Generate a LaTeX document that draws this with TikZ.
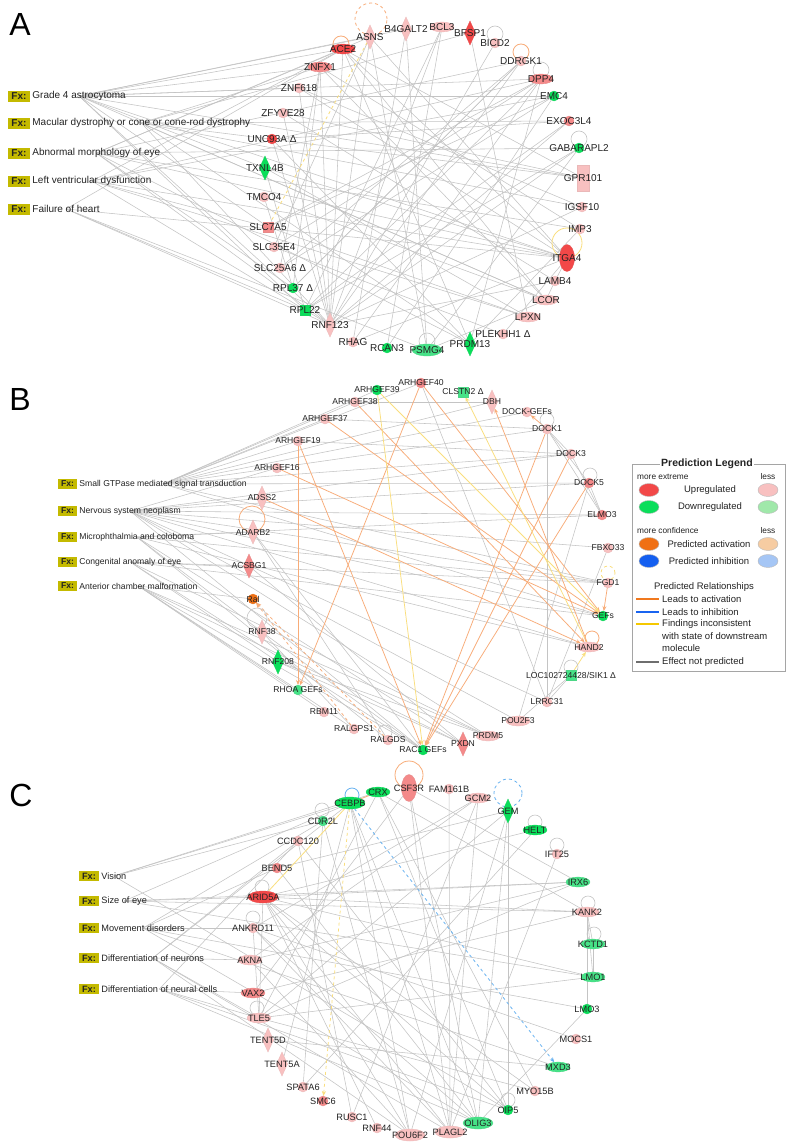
\documentclass[tikz,border=0pt]{standalone}
\usepackage{fontspec}
\setmainfont{Liberation Sans}
\usetikzlibrary{shapes.geometric,arrows.meta}
\pgfdeclarelayer{bg}
\pgfdeclarelayer{paper}
\pgfsetlayers{paper,bg,main}
\definecolor{uphi}{RGB}{242,72,72}
\definecolor{upmid}{RGB}{244,138,138}
\definecolor{uplo}{RGB}{248,192,192}
\definecolor{dnhi}{RGB}{10,222,90}
\definecolor{dnmid}{RGB}{70,226,135}
\definecolor{dnlo}{RGB}{160,232,170}
\definecolor{orhi}{RGB}{240,112,20}
\definecolor{orlo}{RGB}{246,204,162}
\definecolor{blhi}{RGB}{20,95,240}
\definecolor{bllo}{RGB}{165,198,245}
\definecolor{edg}{RGB}{196,196,196}
\definecolor{edo}{RGB}{248,172,120}
\definecolor{edy}{RGB}{250,222,125}
\definecolor{edb}{RGB}{100,176,240}
\definecolor{fxc}{RGB}{196,186,0}
\definecolor{txt}{RGB}{35,35,35}
\definecolor{lgo}{RGB}{240,120,30}
\definecolor{lgb}{RGB}{25,100,240}
\definecolor{lgy}{RGB}{245,200,0}
\definecolor{lgg}{RGB}{110,110,110}
\definecolor{lgbox}{RGB}{165,165,165}
\newcommand\fsz[1]{\fontsize{#1}{#1}\selectfont}
\newcommand\gn[6]{\node[#4,fill=#5,draw=#5!88!gray] (#1) at (#2,#3) {};\node[nl] (#1t) at (#1) {#6};}
\newcommand\fxn[4]{\node[fxbox] (#1) at (#2,#3) {Fx:};\node[fxt,anchor=west] (#1t) at ([xshift=2pt]#1.east) {#4};}
\newcommand\lp[5]{\draw[#5] (#1) ++(#2,#3) circle[radius=#4pt];}
\tikzset{
 bs/.style={inner sep=0pt,outer sep=0pt,line width=0.3pt},
 cir/.style={bs,circle,minimum size=10pt},
 ell/.style={bs,ellipse,minimum width=24pt,minimum height=10pt},
 ellw/.style={bs,ellipse,minimum width=30pt,minimum height=12pt},
 tall/.style={bs,ellipse,minimum width=15pt,minimum height=27pt},
 dia/.style={bs,diamond,minimum width=11pt,minimum height=24pt},
 sq/.style={bs,rectangle,minimum size=10pt},
 rct/.style={bs,rectangle,minimum width=12pt,minimum height=26pt},
 ge/.style={draw=edg,line width=0.55pt},
 oe/.style={draw=edo,line width=0.75pt,-{Stealth[length=5pt,width=4pt]}},
 oed/.style={oe,dashed},
 ye/.style={draw=edy,line width=0.75pt,-{Stealth[length=5pt,width=4pt]}},
 yed/.style={ye,dashed},
 be/.style={draw=edb,line width=0.75pt,dashed,-{Stealth[length=5pt,width=4pt]}},
 gl/.style={draw=edg,line width=0.6pt},
 ol/.style={draw=edo,line width=0.8pt},
 old/.style={ol,dashed},
 yl/.style={draw=edy,line width=0.8pt},
 yld/.style={yl,dashed},
 bl/.style={draw=edb,line width=0.8pt},
 bld/.style={bl,dashed},
 plet/.style={font=\fsz{32},text=black,inner sep=0pt},
 lege/.style={ellipse,minimum width=20pt,minimum height=13pt,inner sep=0pt,draw=gray!55,line width=0.4pt},
 lt/.style={font=\fsz{9.5},text=txt,inner sep=0pt},
 ls/.style={font=\fsz{8.3},text=txt,inner sep=0pt},
}
\begin{document}
\begin{tikzpicture}[x=1pt,y=-1pt]
\useasboundingbox (0,0) rectangle (792,1148);
\begin{pgfonlayer}{paper}
\fill[white] (0,0) rectangle (792,1148);
\end{pgfonlayer}

% ================= PANEL A =================
\node[plet] (pa) at (20,24) {A};
\tikzset{nl/.style={font=\fsz{10},text=txt,inner sep=0pt},
 fxbox/.style={fill=fxc,font=\bfseries\fsz{10},text=txt,minimum width=22pt,minimum height=11pt,inner sep=0pt},
 fxt/.style={font=\fsz{10},text=txt,inner sep=0pt}}
\fxn{fa1}{19}{96}{Grade 4 astrocytoma}
\fxn{fa2}{19}{123}{Macular dystrophy or cone or cone-rod dystrophy}
\fxn{fa3}{19}{153}{Abnormal morphology of eye}
\fxn{fa4}{19}{181}{Left ventricular dysfunction}
\fxn{fa5}{19}{209}{Failure of heart}

\gn{ACE}{343}{49}{ell}{uphi}{ACE2}
\gn{ASNS}{370}{37}{dia}{uplo}{ASNS}
\gn{B4G}{406}{29}{dia}{uplo}{B4GALT2}
\gn{BCL}{442}{27}{ell}{uplo}{BCL3}
\gn{BFS}{470}{33}{dia}{uphi}{BFSP1}
\gn{BIC}{495}{43}{cir}{uplo}{BICD2}
\gn{DDR}{521}{61}{cir}{uplo}{DDRGK1}
\gn{DPP}{541}{79}{ell}{upmid}{DPP4}
\gn{EMC}{554}{96}{cir}{dnhi}{EMC4}
\gn{EXO}{569}{121}{cir}{upmid}{EXOC3L4}
\gn{GAB}{579}{148}{cir}{dnhi}{GABARAPL2}
\gn{GPR}{583}{178}{rct}{uplo}{GPR101}
\gn{IGS}{582}{207}{cir}{uplo}{IGSF10}
\gn{IMP}{580}{229}{cir}{uplo}{IMP3}
\gn{ITG}{567}{258}{tall}{uphi}{ITGA4}
\gn{LAM}{555}{281}{cir}{uplo}{LAMB4}
\gn{LCO}{546}{300}{ell}{uplo}{LCOR}
\gn{LPX}{528}{317}{ell}{uplo}{LPXN}
\gn{PLE}{503}{334}{cir}{uplo}{PLEKHH1 Δ}
\gn{PRD}{470}{344}{dia}{dnhi}{PRDM13}
\gn{PSM}{427}{350}{ellw}{dnmid}{PSMG4}
\gn{RCA}{387}{348}{cir}{dnhi}{RCAN3}
\gn{RHA}{353}{342}{cir}{uplo}{RHAG}
\gn{RNF}{330}{325}{dia}{uplo}{RNF123}
\gn{R22}{305}{310}{sq}{dnhi}{RPL22}
\gn{R37}{293}{288}{cir}{dnhi}{RPL37 Δ}
\gn{S25}{280}{268}{cir}{uplo}{SLC25A6 Δ}
\gn{S35}{274}{247}{cir}{uplo}{SLC35E4}
\gn{S7}{268}{227}{sq}{upmid}{SLC7A5}
\gn{TMC}{264}{197}{cir}{uplo}{TMCO4}
\gn{TXN}{265}{168}{dia}{dnhi}{TXNL4B}
\gn{UNC}{272}{139}{cir}{uphi}{UNC93A Δ}
\gn{ZFY}{283}{113}{cir}{uplo}{ZFYVE28}
\gn{Z618}{299}{88}{cir}{uplo}{ZNF618}
\gn{ZNX}{320}{67}{ell}{upmid}{ZNFX1}

\begin{pgfonlayer}{bg}
\foreach \b in {ACE,ZNX,ASNS,Z618,S7,RNF,R22,DPP,GPR,ITG,EMC,LCO,TXN,B4G} \draw[ge] (fa1t.center) -- (\b);
\foreach \b in {BFS,ZNX,IGS,GPR,LCO,RNF,EXO,PRD} \draw[ge] (fa2t.center) -- (\b);
\foreach \b in {ACE,ASNS,DDR,ITG,RNF,R37,PRD,GAB,IMP} \draw[ge] (fa3t.center) -- (\b);
\foreach \b in {ITG,DPP,S7,RNF,ACE,LPX,EMC} \draw[ge] (fa4t.center) -- (\b);
\foreach \b in {ACE,RNF,R22,ITG,PSM} \draw[ge] (fa5t.center) -- (\b);
\foreach \a/\b in {ACE/RNF,ACE/PRD,ACE/ITG,ACE/LCO,ASNS/RNF,ASNS/S35,ASNS/PSM,ASNS/ITG,ZNX/R37,ZNX/RNF,ZNX/LCO,ZNX/S25,Z618/ITG,Z618/RNF,ZFY/RNF,ZFY/GPR,UNC/RNF,UNC/PRD,UNC/EXO,TXN/R22,TXN/ITG,TMC/R37,TMC/LCO,S7/DPP,S7/EMC,S35/DPP,S25/EMC,S25/DDR,R37/DDR,R22/GAB,R22/DPP,RNF/DDR,RNF/GAB,RNF/EXO,RNF/IGS,RNF/LAM,RNF/BIC,RNF/BCL,RHA/DPP,RHA/ITG,RHA/B4G,RCA/EMC,RCA/BCL,PSM/GAB,PSM/LCO,PSM/B4G,PRD/DPP,PLE/S35,LPX/BFS,LPX/TXN,LAM/ZFY,IMP/ZNX,IMP/PRD,IGS/Z618,GPR/ACE,BCL/R22,LPX/S7,PLE/ITG,EXO/R22,DDR/R37,LAM/ITG,LCO/LAM}
  \draw[ge] (\a) -- (\b);
\draw[yld] (ASNS) -- (S7);
\lp{ACE}{-2}{-5}{8}{ol}
\lp{ASNS}{1}{-18}{16}{old}
\lp{DDR}{0}{-9}{8}{ol}
\lp{ITG}{0}{-15}{15}{yl}
\lp{BIC}{0}{-9}{8}{gl}
\lp{DPP}{0}{-9}{8}{gl}
\lp{GAB}{0}{-9}{8}{gl}
\lp{PSM}{0}{-9}{8}{gl}
\end{pgfonlayer}

% ================= PANEL B =================
\node[plet] (pb) at (20,399) {B};
\tikzset{nl/.style={font=\fsz{8.6},text=txt,inner sep=0pt},
 fxbox/.style={fill=fxc,font=\bfseries\fsz{8.6},text=txt,minimum width=19pt,minimum height=10pt,inner sep=0pt},
 fxt/.style={font=\fsz{8.6},text=txt,inner sep=0pt}}
\fxn{fb1}{67.5}{484}{Small GTPase mediated signal transduction}
\fxn{fb2}{67.5}{511}{Nervous system neoplasm}
\fxn{fb3}{67.5}{537}{Microphthalmia and coloboma}
\fxn{fb4}{67.5}{562}{Congenital anomaly of eye}
\fxn{fb5}{67.5}{586}{Anterior chamber malformation}

\gn{b39}{377}{390}{cir}{dnhi}{ARHGEF39}
\gn{b40}{421}{383}{cir}{upmid}{ARHGEF40}
\gn{cls}{463}{392}{sq}{dnmid}{CLSTN2 Δ}
\gn{dbh}{492}{402}{dia}{uplo}{DBH}
\gn{dgef}{527}{412}{cir}{uplo}{DOCK-GEFs}
\gn{d1}{547}{429}{cir}{uplo}{DOCK1}
\gn{d3}{571}{454}{cir}{uplo}{DOCK3}
\gn{d5}{589}{483}{cir}{upmid}{DOCK5}
\gn{elm}{602}{515}{cir}{upmid}{ELMO3}
\gn{fbx}{608}{548}{cir}{uplo}{FBXO33}
\gn{fgd}{608}{583}{cir}{uplo}{FGD1}
\gn{gefs}{603}{616}{cir}{dnhi}{GEFs}
\gn{hand}{589}{647}{ell}{uplo}{HAND2}
\gn{loc}{571}{675}{sq}{dnmid}{LOC102724428/SIK1 Δ}
\gn{lrr}{547}{702}{cir}{uplo}{LRRC31}
\gn{pou}{518}{721}{ell}{uplo}{POU2F3}
\gn{prd5}{488}{736}{ell}{uplo}{PRDM5}
\gn{pxd}{463}{744}{dia}{upmid}{PXDN}
\gn{rac}{423}{750}{cir}{dnhi}{RAC1 GEFs}
\gn{rgds}{388}{740}{cir}{uplo}{RALGDS}
\gn{rgps}{354}{729}{cir}{uplo}{RALGPS1}
\gn{rbm}{324}{712}{cir}{uplo}{RBM11}
\gn{rhoa}{298}{690}{cir}{dnmid}{RHOA GEFs}
\gn{r208}{278}{662}{dia}{dnhi}{RNF208}
\gn{r38}{262}{632}{dia}{uplo}{RNF38}
\gn{ral}{253}{599}{cir}{orhi}{Ral}
\gn{acs}{249}{566}{dia}{upmid}{ACSBG1}
\gn{adar}{253}{532}{dia}{uplo}{ADARB2}
\gn{adss}{262}{498}{dia}{uplo}{ADSS2}
\gn{b16}{277}{468}{cir}{uplo}{ARHGEF16}
\gn{b19}{298}{441}{cir}{uplo}{ARHGEF19}
\gn{b37}{325}{419}{cir}{uplo}{ARHGEF37}
\gn{b38}{355}{402}{cir}{uplo}{ARHGEF38}

\begin{pgfonlayer}{bg}
\foreach \b in {b39,b38,b37,b19,b40,d1,d3,d5,fgd,gefs,dgef,dbh} \draw[ge] (fb1t.center) -- (\b);
\foreach \b in {adss,b16,d5,fbx,fgd,hand,prd5,pou,rac,elm,lrr,gefs,d3} \draw[ge] (fb2t.center) -- (\b);
\foreach \b in {adar,hand,pxd,rgds,elm,r38,fgd} \draw[ge] (fb3t.center) -- (\b);
\foreach \b in {acs,fgd,r208,gefs,prd5,rac} \draw[ge] (fb4t.center) -- (\b);
\foreach \b in {rhoa,rbm,rgps,prd5,pxd,rac,ral} \draw[ge] (fb5t.center) -- (\b);
\foreach \a/\b in {d1/d3,d1/d5,d3/elm,d5/elm,d1/elm,b40/lrr,d1/lrr,lrr/fbx,pou/loc,r38/rac,r208/prd5,adar/rgds,acs/pxd,b38/dbh,d5/pou,r38/rgps,r208/pxd,adar/rac,lrr/loc,b37/d1,b19/d3}
  \draw[ge] (\a) -- (\b);
\foreach \a/\b in {b19/rhoa,b19/rac,b40/rhoa,b40/gefs,b38/hand,b37/gefs,b16/gefs,adss/hand,d1/rac,d3/rac,d5/rac,fgd/gefs,d1/dgef,hand/dbh}
  \draw[oe] (\a) -- (\b);
\draw[oed] (rgps) -- (ral);
\draw[oed] (rgds) -- (ral);
\foreach \a/\b in {b39/rac,b39/gefs,hand/cls,loc/hand}
  \draw[ye] (\a) -- (\b);
\lp{d1}{0}{-9}{7}{gl}
\lp{d5}{1}{-8}{7}{gl}
\lp{hand}{3}{-9}{7}{ol}
\lp{fgd}{0}{-10}{7}{yld}
\lp{loc}{0}{-8}{7}{gl}
\lp{adss}{-10}{21}{13}{ol}
\lp{r38}{-5}{-14}{10}{gl}
\lp{rgds}{-3}{-8}{7}{gl}
\end{pgfonlayer}

% ---- legend ----
\node[draw=lgbox,line width=0.7pt,minimum width=153pt,minimum height=207pt,anchor=north west,inner sep=0pt] (leg) at (632,464) {};
\node[fill=white,font=\bfseries\fsz{10.5},text=txt,inner sep=1.5pt] (legt) at (707,464) {Prediction Legend};
\node[ls,anchor=west] (lme) at (637,477) {more extreme};
\node[ls] (lle1) at (768,477) {less};
\node[lege,fill=uphi] (le1) at (649,490) {};
\node[lt] (lup) at (710,490) {Upregulated};
\node[lege,fill=uplo] (le2) at (768,490) {};
\node[lege,fill=dnhi] (le3) at (649,507) {};
\node[lt] (ldn) at (710,507) {Downregulated};
\node[lege,fill=dnlo] (le4) at (768,507) {};
\node[ls,anchor=west] (lmc) at (637,531) {more confidence};
\node[ls] (lle2) at (768,531) {less};
\node[lege,fill=orhi] (le5) at (649,544) {};
\node[lt] (lpa) at (709,544) {Predicted activation};
\node[lege,fill=orlo] (le6) at (768,544) {};
\node[lege,fill=blhi] (le7) at (649,561) {};
\node[lt] (lpi) at (709,561) {Predicted inhibition};
\node[lege,fill=bllo] (le8) at (768,561) {};
\node[lt] (lpr) at (704,587) {Predicted Relationships};
\coordinate (lo1) at (636,599); \coordinate (lo2) at (659,599);
\coordinate (lb1) at (636,612); \coordinate (lb2) at (659,612);
\coordinate (ly1) at (636,624); \coordinate (ly2) at (659,624);
\coordinate (lg1) at (636,662); \coordinate (lg2) at (659,662);
\draw[lgo,line width=1.6pt] (lo1) -- (lo2);
\draw[lgb,line width=1.6pt] (lb1) -- (lb2);
\draw[lgy,line width=1.6pt] (ly1) -- (ly2);
\draw[lgg,line width=1.6pt] (lg1) -- (lg2);
\node[lt,anchor=west] (lla) at (662,599) {Leads to activation};
\node[lt,anchor=west] (lli) at (662,612) {Leads to inhibition};
\node[lt,anchor=west] (lfi) at (662,624) {Findings inconsistent};
\node[lt,anchor=west] (lws) at (662,636) {with state of downstream};
\node[lt,anchor=west] (lmo) at (662,648) {molecule};
\node[lt,anchor=west] (len) at (662,662) {Effect not predicted};

% ================= PANEL C =================
\node[plet] (pc) at (21,795) {C};
\tikzset{nl/.style={font=\fsz{9.2},text=txt,inner sep=0pt},
 fxbox/.style={fill=fxc,font=\bfseries\fsz{9.2},text=txt,minimum width=20pt,minimum height=10.5pt,inner sep=0pt},
 fxt/.style={font=\fsz{9.2},text=txt,inner sep=0pt}}
\fxn{fc1}{89}{876}{Vision}
\fxn{fc2}{89}{901}{Size of eye}
\fxn{fc3}{89}{928}{Movement disorders}
\fxn{fc4}{89}{958}{Differentiation of neurons}
\fxn{fc5}{89}{989}{Differentiation of neural cells}

\gn{ceb}{350}{803}{ellw}{dnhi}{CEBPB}
\gn{crx}{378}{792}{ell}{dnhi}{CRX}
\gn{csf}{409}{788}{tall}{upmid}{CSF3R}
\gn{fam}{449}{789}{cir}{uplo}{FAM161B}
\gn{gcm}{478}{798}{ell}{uplo}{GCM2}
\gn{gem}{508}{811}{dia}{dnhi}{GEM}
\gn{helt}{535}{830}{ell}{dnhi}{HELT}
\gn{ift}{557}{854}{cir}{uplo}{IFT25}
\gn{irx}{578}{882}{ell}{dnmid}{IRX6}
\gn{kank}{587}{912}{ell}{uplo}{KANK2}
\gn{kctd}{593}{944}{ell}{dnmid}{KCTD1}
\gn{lmo1}{593}{977}{ell}{dnmid}{LMO1}
\gn{lmo3}{587}{1009}{cir}{dnhi}{LMO3}
\gn{mocs}{576}{1039}{cir}{uplo}{MOCS1}
\gn{mxd}{558}{1067}{ell}{dnmid}{MXD3}
\gn{myo}{535}{1091}{cir}{uplo}{MYO15B}
\gn{oip}{508}{1110}{cir}{dnhi}{OIP5}
\gn{olig}{478}{1123}{ellw}{dnmid}{OLIG3}
\gn{plag}{450}{1132}{ellw}{uplo}{PLAGL2}
\gn{pou6}{410}{1135}{ellw}{uplo}{POU6F2}
\gn{rnff}{377}{1128}{cir}{uplo}{RNF44}
\gn{rusc}{352}{1117}{cir}{uplo}{RUSC1}
\gn{smc}{323}{1101}{cir}{upmid}{SMC6}
\gn{spa}{303}{1087}{cir}{uplo}{SPATA6}
\gn{tfa}{282}{1064}{dia}{uplo}{TENT5A}
\gn{tfd}{268}{1040}{dia}{uplo}{TENT5D}
\gn{tle}{259}{1018}{ell}{uplo}{TLE5}
\gn{vax}{253}{993}{ell}{upmid}{VAX2}
\gn{akna}{250}{960}{ell}{uplo}{AKNA}
\gn{ank}{253}{928}{cir}{uplo}{ANKRD11}
\gn{arid}{263}{897}{ellw}{uphi}{ARID5A}
\gn{bend}{277}{868}{cir}{upmid}{BEND5}
\gn{ccdc}{298}{841}{cir}{uplo}{CCDC120}
\gn{cdr}{323}{821}{cir}{dnmid}{CDR2L}

\begin{pgfonlayer}{bg}
\foreach \b in {cdr,crx,oip,ceb} \draw[ge] (fc1t.center) -- (\b);
\foreach \b in {arid,irx,kank,lmo1,ceb} \draw[ge] (fc2t.center) -- (\b);
\foreach \b in {ank,bend,cdr,lmo3,mxd,olig} \draw[ge] (fc3t.center) -- (\b);
\foreach \b in {ccdc,akna,pou6,plag,tle,ceb} \draw[ge] (fc4t.center) -- (\b);
\foreach \b in {vax,tle,olig,oip,ccdc} \draw[ge] (fc5t.center) -- (\b);
\foreach \a/\b in {ceb/olig,ceb/pou6,ceb/plag,crx/oip,crx/myo,crx/kank,csf/plag,csf/olig,csf/irx,fam/plag,gcm/rusc,gcm/ank,gem/oip,gem/tle,gem/pou6,helt/arid,helt/spa,ift/plag,irx/arid,irx/akna,irx/tle,kank/kctd,kank/lmo1,kank/lmo3,kank/arid,kank/vax,kctd/lmo1,lmo1/arid,lmo1/tle,lmo3/olig,mocs/ank,mxd/tfd,myo/arid,myo/tle,oip/arid,oip/ccdc,olig/bend,plag/arid,plag/ank,pou6/arid,pou6/akna,rnff/arid,rusc/ccdc,spa/cdr,tfa/ceb,tle/crx,vax/csf,akna/gcm,ank/olig,arid/tle,ank/tle,cdr/pou6,bend/gem,gcm/plag,gem/olig}
  \draw[ge] (\a) -- (\b);
\draw[be] (ceb) -- (mxd);
\draw[yed] (ceb) -- (smc);
\draw[yl] (ceb) -- (arid);
\draw[ol] (crx) -- (ceb);
\lp{ceb}{2}{-8}{7}{bl}
\lp{csf}{0}{-13}{14}{ol}
\lp{gem}{0}{-18}{14}{bld}
\lp{cdr}{-1}{-11}{7}{gl}
\lp{arid}{-1}{-10}{7}{gl}
\lp{ank}{0}{-10}{7}{gl}
\lp{tle}{-2}{-10}{7}{gl}
\lp{helt}{0}{-8}{7}{gl}
\lp{ift}{0}{-9}{7}{gl}
\lp{kank}{1}{-9}{7}{gl}
\lp{kctd}{1}{-10}{7}{gl}
\lp{oip}{0}{-10}{7}{gl}
\end{pgfonlayer}
\end{tikzpicture}
\end{document}
